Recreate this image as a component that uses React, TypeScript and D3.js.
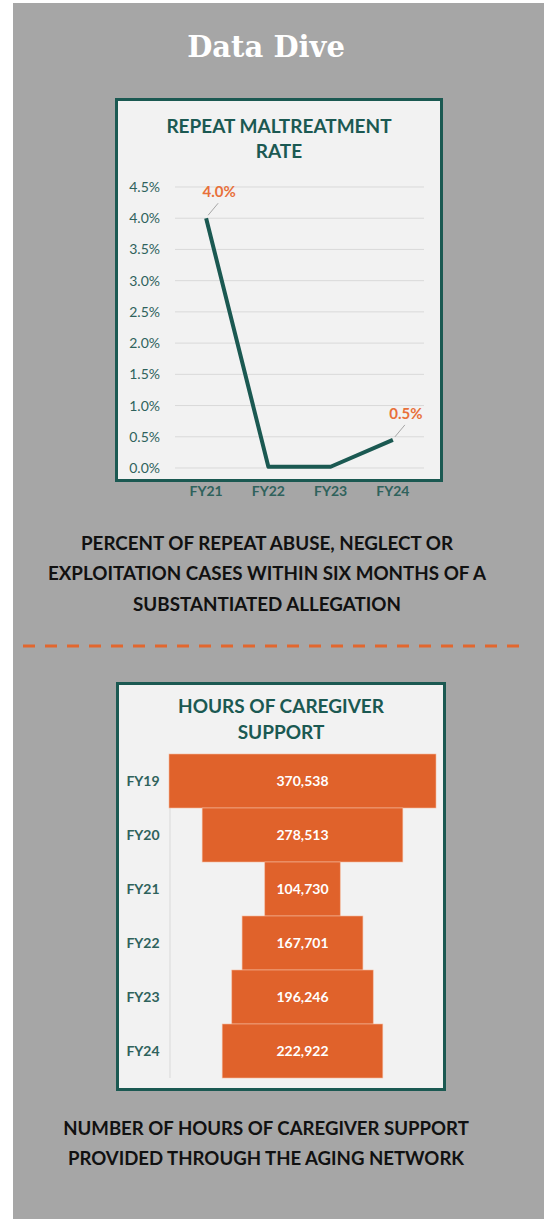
import React from 'react';
import * as d3 from 'd3';

// repeat maltreatment rate
const rateYears = ['FY21', 'FY22', 'FY23', 'FY24'];
const rateValues = [0.04, 0.0002, 0.0002, 0.0045];
const rateLabels = ['4.0%', '', '', '0.5%'];

// caregiver support hours
const hourYears = ['FY19', 'FY20', 'FY21', 'FY22', 'FY23', 'FY24'];
const hourValues = [370538, 278513, 104730, 167701, 196246, 222922];

const teal = '#1b5952';
const orange = '#e0622b';
const sans = 'Lato, "Open Sans", sans-serif';

export default function App() {
  const W = 544, H = 1219;

  // line chart scales
  const x = d3.scaleBand().domain(rateYears).range([175, 424]);
  const y = d3.scaleLinear().domain([0, 0.045]).range([468, 187]);
  const yTicks = d3.range(0, 10).map(i => i * 0.005);
  const pct = d3.format('.1%');
  const line = d3.line<number>()
    .x((d, i) => x(rateYears[i])! + x.bandwidth() / 2)
    .y(d => y(d));

  // funnel scales
  const fy = d3.scaleBand().domain(hourYears).range([754, 1078]);
  const fw = d3.scaleLinear().domain([0, 370538]).range([0, 267]);
  const cx = 302.5;
  const comma = d3.format(',');

  return (
    <svg width={W} height={H} style={{ position: 'absolute', left: 0, top: 0 }}>
      <rect x={0} y={0} width={W} height={H} fill="#ffffff" />
      <rect x={13} y={3} width={W - 13} height={H - 3} fill="#a6a6a6" />
      <text x={266} y={57} textAnchor="middle" fill="#fff" fontFamily='"DejaVu Serif", serif'
        fontWeight="bold" fontSize={29}>Data Dive</text>

      {/* top chart */}
      <rect x={116.5} y={99.5} width={325} height={381} fill="#f2f2f2" stroke={teal} strokeWidth={3} />
      <g fontFamily={sans} fontWeight="bold" fill={teal} fontSize={19} textAnchor="middle">
        <text x={279} y={133}>REPEAT MALTREATMENT</text>
        <text x={279} y={158}>RATE</text>
      </g>
      {yTicks.map(t => (
        <g key={t}>
          <line x1={175} x2={424} y1={y(t)} y2={y(t)} stroke="#d9d9d9" strokeWidth={1} />
          <text x={160} y={y(t) + 5} textAnchor="end" fontFamily={sans} fontSize={14} fill="#2f625c">{pct(t)}</text>
        </g>
      ))}
      {rateYears.map(c => (
        <text key={c} x={x(c)! + x.bandwidth() / 2} y={496} textAnchor="middle" fontFamily={sans}
          fontWeight="bold" fontSize={14} fill="#2f625c">{c}</text>
      ))}
      <path d={line(rateValues)!} fill="none" stroke={teal} strokeWidth={4} strokeLinejoin="round" />
      {rateValues.map((v, i) => {
        if (!rateLabels[i]) return null;
        const px = x(rateYears[i])! + x.bandwidth() / 2;
        const py = y(v);
        return (
          <g key={i}>
            <line x1={px + 2} y1={py - 3} x2={px + 12} y2={py - 15} stroke="#a6a6a6" strokeWidth={1} />
            <text x={px + 13} y={py - 21} textAnchor="middle" fontFamily={sans} fontWeight="bold"
              fontSize={15} fill="#e8703a">{rateLabels[i]}</text>
          </g>
        );
      })}

      <g fontFamily={sans} fontWeight="bold" fill="#111" fontSize={18.8} textAnchor="middle">
        <text x={267} y={550}>PERCENT OF REPEAT ABUSE, NEGLECT OR</text>
        <text x={267} y={580}>EXPLOITATION CASES WITHIN SIX MONTHS OF A</text>
        <text x={267} y={611}>SUBSTANTIATED ALLEGATION</text>
      </g>

      <line x1={23} x2={527} y1={646} y2={646} stroke="#e2672e" strokeWidth={3} strokeDasharray="12 10" />

      {/* funnel chart */}
      <rect x={117.5} y={683.5} width={327} height={406} fill="#f2f2f2" stroke={teal} strokeWidth={3} />
      <g fontFamily={sans} fontWeight="bold" fill={teal} fontSize={19} textAnchor="middle">
        <text x={281} y={713}>HOURS OF CAREGIVER</text>
        <text x={281} y={739}>SUPPORT</text>
      </g>
      <line x1={170} x2={170} y1={754} y2={1078} stroke="#d9d9d9" strokeWidth={1} />
      {hourYears.map((c, i) => {
        const w = fw(hourValues[i]);
        const top = fy(c)!;
        return (
          <g key={c}>
            <rect x={cx - w / 2} y={top} width={w} height={fy.bandwidth()} fill={orange}
              stroke="#f4b89b" strokeWidth={0.6} />
            <text x={cx} y={top + fy.bandwidth() / 2 + 5} textAnchor="middle" fontFamily={sans}
              fontWeight="bold" fontSize={14} fill="#fff">{comma(hourValues[i])}</text>
            <text x={143} y={top + fy.bandwidth() / 2 + 5} textAnchor="middle" fontFamily={sans}
              fontWeight="bold" fontSize={14} fill="#2f625c">{c}</text>
          </g>
        );
      })}

      <g fontFamily={sans} fontWeight="bold" fill="#111" fontSize={18.6} textAnchor="middle">
        <text x={266} y={1135}>NUMBER OF HOURS OF CAREGIVER SUPPORT</text>
        <text x={266} y={1165}>PROVIDED THROUGH THE AGING NETWORK</text>
      </g>
    </svg>
  );
}
